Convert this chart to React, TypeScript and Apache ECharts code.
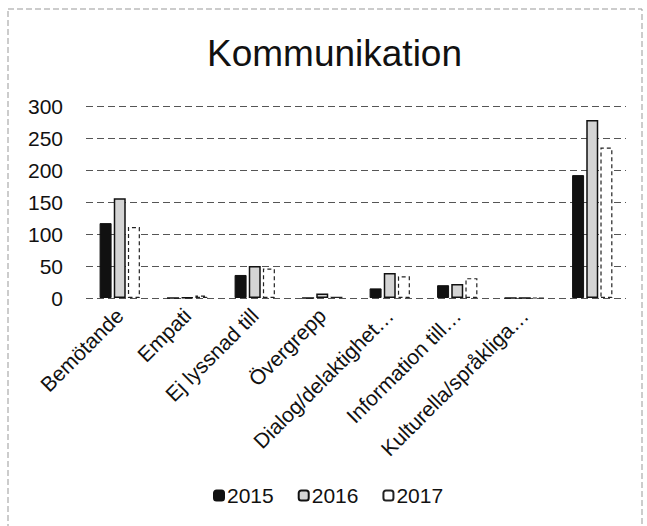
import React, { useEffect, useRef } from "react";
import * as echarts from "echarts";

const categories = [
  "Bemötande",
  "Empati",
  "Ej lyssnad till",
  "Övergrepp",
  "Dialog/delaktighet…",
  "Information till…",
  "Kulturella/språkliga…",
  "",
];
const values2015 = [117, 0, 36, 0, 15, 20, 0, 192];
const values2016 = [156, 1, 50, 7, 39, 22, 0, 278];
const values2017 = [111, 4, 46, 2, 34, 31, 0, 235];
const seriesNames = ["2015", "2016", "2017"];
const yTicks = { min: 0, max: 300, interval: 50 };

const FONT = "'Liberation Sans', Arial, sans-serif";

export default function App() {
  const ref = useRef<HTMLDivElement>(null);
  useEffect(() => {
    if (!ref.current) return;
    const chart = echarts.init(ref.current, undefined, { renderer: "svg" });
    chart.setOption({
      animation: false,
      backgroundColor: "#fff",
      title: {
        text: "Kommunikation",
        left: 202,
        top: 30,
        textStyle: { fontFamily: FONT, fontSize: 37, fontWeight: "normal", color: "#111" },
      },
      legend: {
        bottom: 15,
        left: 208,
        itemWidth: 10,
        itemHeight: 10,
        itemGap: 24,
        textStyle: { fontFamily: FONT, fontSize: 21, color: "#111", padding: [0, 0, 0, -2] },
        data: seriesNames,
      },
      graphic: [
        {
          type: "rect",
          shape: { x: 8, y: 9, width: 634, height: 540 },
          style: { fill: "none", stroke: "#999", lineWidth: 1, lineDash: [6, 3] },
          silent: true,
          z: -1,
        },
      ],
      grid: { left: 86, right: 21, top: 106, bottom: 228 },
      xAxis: {
        type: "category",
        data: categories,
        axisLine: { show: false },
        axisTick: { show: false },
        axisLabel: {
          interval: 0,
          rotate: 45,
          margin: 14,
          fontFamily: FONT,
          fontSize: 21,
          color: "#111",
        },
      },
      yAxis: {
        type: "value",
        min: yTicks.min,
        max: yTicks.max,
        interval: yTicks.interval,
        axisLine: { show: false },
        axisTick: { show: false },
        axisLabel: { fontFamily: FONT, fontSize: 21, color: "#111", margin: 23 },
        splitLine: { lineStyle: { color: "#555", type: [7, 4], width: 1 } },
      },
      series: [
        {
          name: seriesNames[0],
          type: "bar",
          data: values2015,
          barWidth: 12,
          barGap: "18%",
          itemStyle: { color: "#111", borderColor: "#111", borderWidth: 1 },
        },
        {
          name: seriesNames[1],
          type: "bar",
          data: values2016,
          barWidth: 12,
          barGap: "18%",
          itemStyle: { color: "#d4d4d4", borderColor: "#111", borderWidth: 1.5 },
        },
        {
          name: seriesNames[2],
          type: "bar",
          data: values2017,
          barWidth: 12,
          barGap: "18%",
          itemStyle: { color: "#fff", borderColor: "#222", borderWidth: 1.2, borderType: [4, 3] },
        },
      ],
    });
    return () => chart.dispose();
  }, []);
  return (
    <div
      ref={ref}
      style={{ position: "fixed", left: 0, top: 0, width: 647, height: 526 }}
    />
  );
}
